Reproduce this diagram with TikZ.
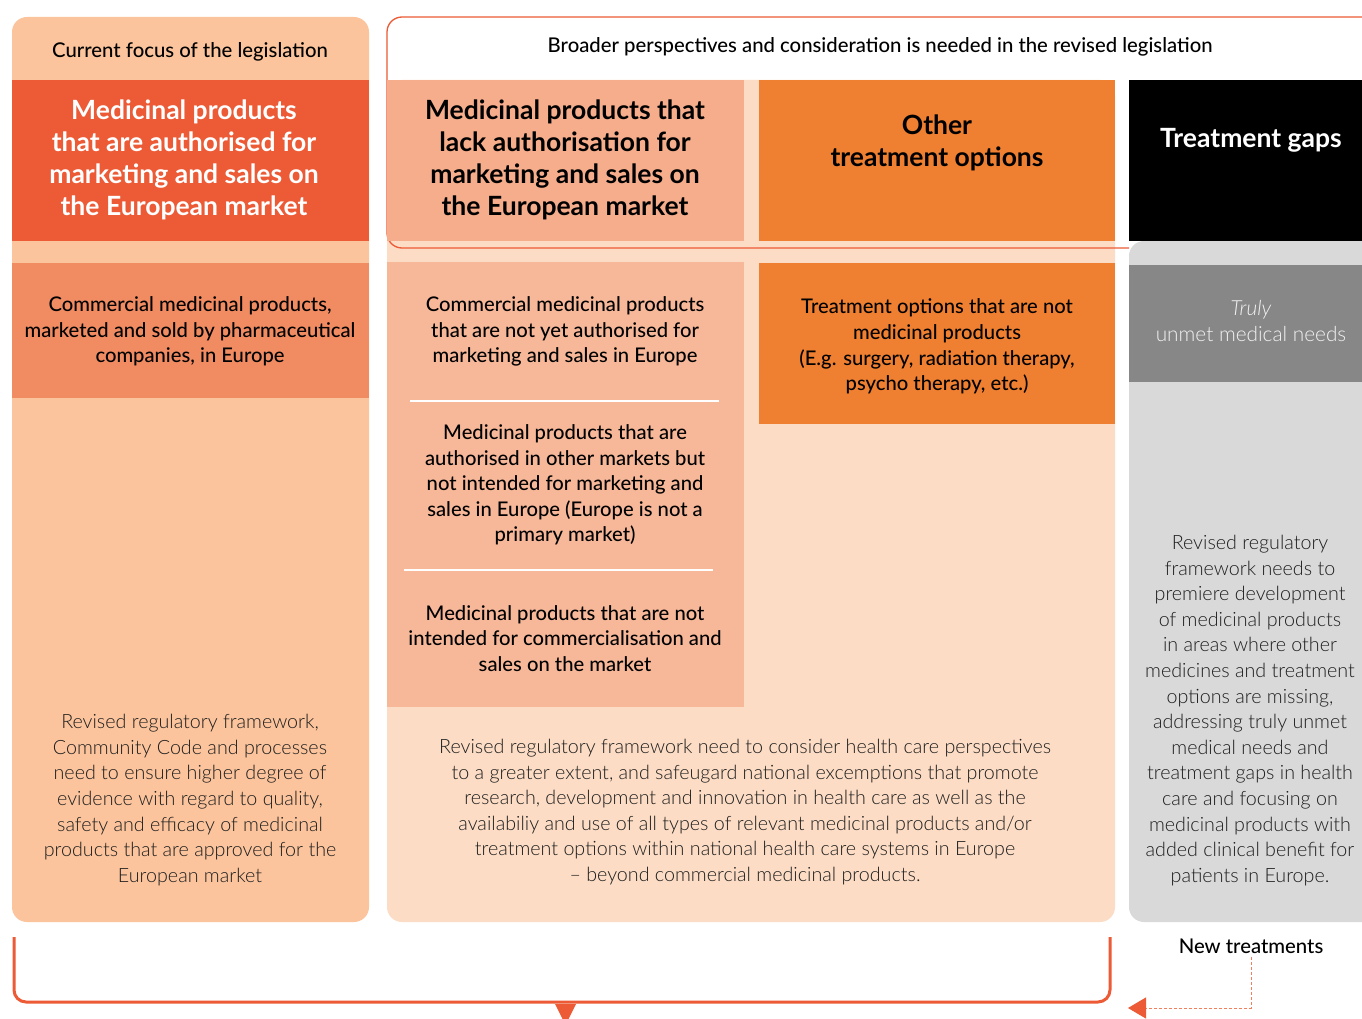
\documentclass[tikz,border=0pt]{standalone}
\usepackage{fontspec}
\setmainfont{Lato}
\newfontfamily\lightfont{Lato Light}
\newfontfamily\mediumfont{Lato Medium}
\usetikzlibrary{arrows.meta}

\definecolor{leftbg}{HTML}{FBC49C}
\definecolor{redhead}{HTML}{EC5A36}
\definecolor{salmon}{HTML}{F18B62}
\definecolor{peach}{HTML}{FCDCC4}
\definecolor{midhead}{HTML}{F5AD8C}
\definecolor{midbox}{HTML}{F7B89A}
\definecolor{orangebox}{HTML}{EF7F31}
\definecolor{palegray}{HTML}{D9D9D9}
\definecolor{midgray}{HTML}{878787}
\definecolor{dashline}{HTML}{F07F5E}
\definecolor{inktext}{HTML}{1E1E1E}
\definecolor{softwhite}{HTML}{F2F2F2}

\tikzset{
  headtext/.style={font=\mediumfont\fontsize{20.3}{23}\selectfont, align=center, text=black},
  titletext/.style={font=\bfseries\fontsize{26.5}{32}\selectfont, align=center},
  boxtext/.style={font=\mediumfont\fontsize{20.2}{25.6}\selectfont, align=center, text=black},
  lighttext/.style={font=\lightfont\fontsize{19.7}{25.6}\selectfont, align=center, text=inktext},
  divider/.style={white, line width=1.2pt},
}

\begin{document}
\begin{tikzpicture}[x=1pt,y=-1pt]
\useasboundingbox (0,0) rectangle (1362,1019);
\fill[white] (0,0) rectangle (1362,1019);

% ---- left column: current legislation
\fill[leftbg, rounded corners=15] (12,17) rectangle (369,922);
\fill[redhead] (12,80) rectangle (369,241);
\fill[salmon] (12,263) rectangle (369,398);

% ---- middle column background
\fill[peach, rounded corners=15] (387,80) rectangle (1115,922);

% ---- outline around the broader-perspective header
\draw[redhead, line width=1.3pt, rounded corners=15]
  (1362,17) -- (387,17) -- (387,248) -- (1129,248);

\fill[midhead] (387,80) rectangle (744,241);
\fill[orangebox] (759,80) rectangle (1115,241);
\fill[midbox] (387,262) rectangle (744,707);
\fill[orangebox] (759,263) rectangle (1115,424);
\draw[divider] (410,401) -- (719,401);
\draw[divider] (404,570) -- (713,570);

% ---- right column: treatment gaps
\fill[palegray, rounded corners=15] (1129,241) rectangle (1400,922);
\fill[black] (1129,80) rectangle (1362,241);
\fill[midgray] (1129,265) rectangle (1362,382);

% ---- texts
\node[headtext] (curfocus) at (190,52) {Current focus of the legislation};
\node[headtext] (broader) at (880,47) {Broader perspectives and consideration is needed in the revised legislation};

\node[titletext, text=white] (authorised) at (184,160)
  {Medicinal products\\that are authorised for\\marketing and sales on\\the European market};
\node[titletext, text=black] (lackauth) at (565,160)
  {Medicinal products that\\lack authorisation for\\marketing and sales on\\the European market};
\node[titletext, text=black] (othertreat) at (937,143)
  {Other\\treatment options};
\node[titletext, text=white] (gaps) at (1251,140) {Treatment gaps};

\node[boxtext] (commercial) at (190,331.5)
  {Commercial medicinal products,\\marketed and sold by pharmaceutical\\companies, in Europe};
\node[boxtext] (notyet) at (565,331.5)
  {Commercial medicinal products\\that are not yet authorised for\\marketing and sales in Europe};
\node[boxtext] (othermarkets) at (565,485)
  {Medicinal products that are\\authorised in other markets but\\not intended for marketing and\\sales in Europe (Europe is not a\\primary market)};
\node[boxtext] (noncommercial) at (565,638.5)
  {Medicinal products that are not\\intended for commercialisation and\\sales on the market};
\node[boxtext] (notmedicinal) at (937,346.5)
  {Treatment options that are not\\medicinal products\\(E.g. surgery, radiation therapy,\\psycho therapy, etc.)};

\node[lighttext, text=softwhite, font=\lightfont\fontsize{20.8}{26}\selectfont] (unmet) at (1251,321.5)
  {{\itshape Truly}\\unmet medical needs};

\node[lighttext] (leftframe) at (190,800)
  {Revised regulatory framework,\\Community Code and processes\\need to ensure higher degree of\\evidence with regard to quality,\\safety and efficacy of medicinal\\products that are approved for the\\European market};
\node[lighttext] (midframe) at (745,812)
  {Revised regulatory framework need to consider health care perspectives\\to a greater extent, and safeugard national excemptions that promote\\research, development and innovation in health care as well as the\\availabiliy and use of all types of relevant medicinal products and/or\\treatment options within national health care systems in Europe\\\textendash{} beyond commercial medicinal products.};
\node[lighttext] (rightframe) at (1250,710.5)
  {Revised regulatory\\framework needs to\\premiere development\\of medicinal products\\in areas where other\\medicines and treatment\\options are missing,\\addressing truly unmet\\medical needs and\\treatment gaps in health\\care and focusing on\\medicinal products with\\added clinical benefit for\\patients in Europe.};

% ---- bottom bracket and arrows
\coordinate (brL) at (14,937);
\coordinate (brR) at (1110,937);
\draw[redhead, line width=3pt, rounded corners=12]
  (brL) -- (14,1002) -- (1110,1002) -- (brR);
\fill[redhead] (555,1004) -- (576,1004) -- (565.5,1025) -- cycle;

\node[headtext] (newtreat) at (1251,946) {New treatments};
\coordinate (arrowtip) at (1128,1008);
\draw[dashline, line width=1pt, dash pattern=on 3pt off 2pt,
      -{Triangle[length=18pt,width=21pt,fill=redhead,color=redhead]}]
  (newtreat.south) |- (arrowtip);
\end{tikzpicture}
\end{document}
